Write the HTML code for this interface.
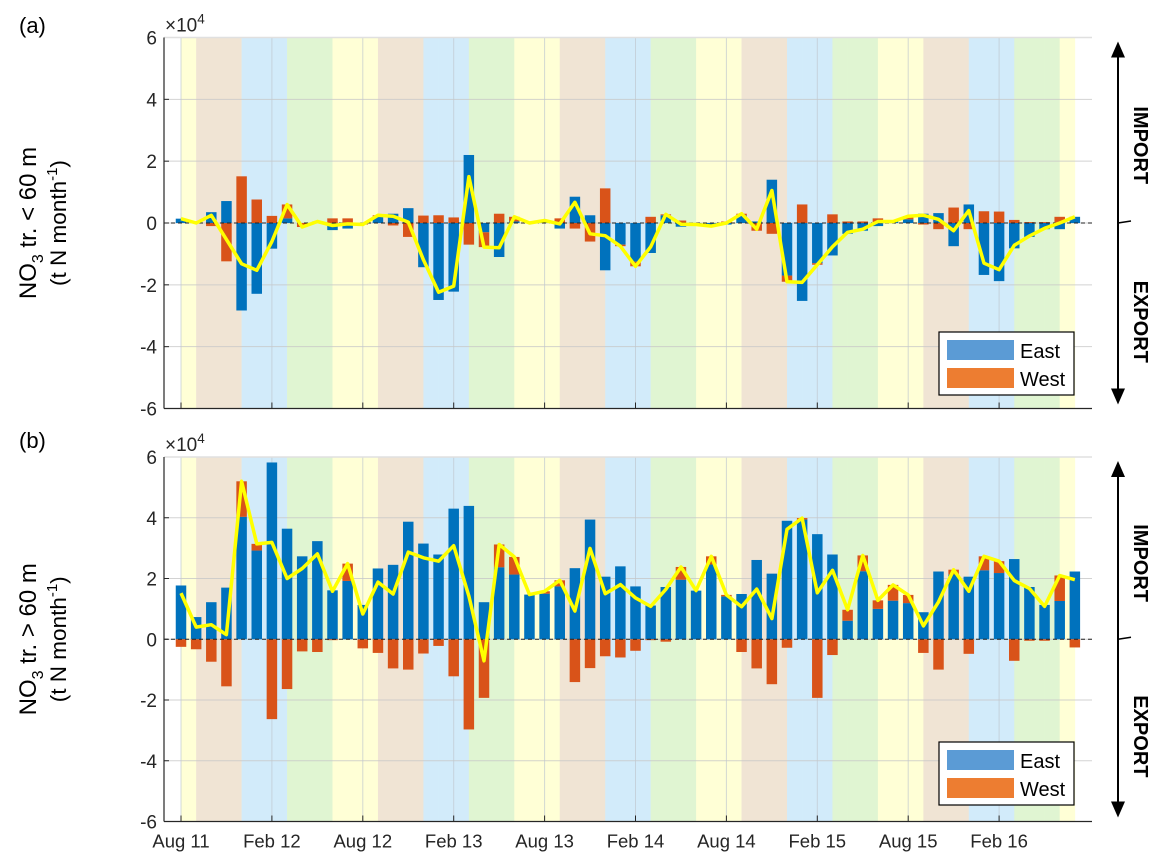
<!DOCTYPE html>
<html><head><meta charset="utf-8">
<style>
html,body{margin:0;padding:0;background:#fff;}
svg{display:block;font-family:"Liberation Sans",Arial,sans-serif;}
</style></head>
<body>
<svg id="chart" width="1159" height="866" viewBox="0 0 1159 866" xmlns="http://www.w3.org/2000/svg"></svg>
<script>
// ---- data (units of 1e4 t N / month), months from Aug 2011 ----
const xTickLabels = ["Aug 11","Feb 12","Aug 12","Feb 13","Aug 13","Feb 14","Aug 14","Feb 15","Aug 15","Feb 16"];
const yTickLabels = [6,4,2,0,-2,-4,-6];
const seasonNames = ["summer","autumn","winter","spring"];
const eastA = [0.14,0,0.35,0.71,-2.83,-2.29,-0.83,0.15,0,0.05,-0.23,-0.18,-0.03,0.2,0.3,0.48,-1.43,-2.49,-2.22,2.2,-0.3,-1.1,0.05,0,0.05,-0.18,0.85,0.25,-1.53,-0.7,-1.25,-0.97,0.25,-0.12,-0.03,-0.08,-0.05,0.25,0.05,1.4,-1.7,-2.52,-1.3,-1.05,-0.35,-0.25,-0.1,0.05,0.12,0.3,0.32,-0.75,0.6,-1.68,-1.88,-0.82,-0.45,-0.2,-0.2,0.2];
const westA = [0,0,-0.1,-1.24,1.51,0.76,0.23,0.45,-0.13,0,0.15,0.15,-0.02,0.05,-0.08,-0.45,0.24,0.25,0.18,-0.7,-0.48,0.3,0.15,0,0.03,0.15,-0.18,-0.6,1.12,-0.05,-0.15,0.2,0.03,0.08,-0.02,-0.02,0.05,0.05,-0.25,-0.35,-0.2,0.6,-0.05,0.28,0.05,0.05,0.15,0,0.1,-0.05,-0.2,0.5,-0.2,0.38,0.37,0.1,0.03,0.03,0.2,0];
const eastB = [1.77,0.73,1.22,1.7,4.03,2.92,5.82,3.64,2.73,3.23,1.61,1.92,1.13,2.33,2.45,3.87,3.15,2.79,4.3,4.39,1.22,2.37,2.13,1.47,1.5,1.74,2.34,3.94,2.06,2.4,1.74,1.11,1.72,1.96,1.6,2.46,1.41,1.49,2.61,2.16,3.9,3.94,3.46,2.79,0.61,2.24,1.0,1.27,1.19,0.89,2.23,2.13,2.06,2.27,2.18,2.64,1.72,1.13,1.26,2.23];
const westB = [-0.25,-0.33,-0.74,-1.55,1.17,0.22,-2.63,-1.64,-0.4,-0.42,-0.03,0.57,-0.3,-0.45,-0.96,-1.0,-0.47,-0.22,-1.22,-2.97,-1.93,0.75,0.58,0,0.08,0.2,-1.41,-0.95,-0.56,-0.6,-0.38,-0.03,-0.08,0.42,0,0.27,0.05,-0.42,-0.96,-1.48,-0.28,0.05,-1.93,-0.52,0.36,0.52,0.28,0.52,0.27,-0.45,-1.0,0.16,-0.48,0.46,0.39,-0.71,-0.05,-0.05,0.84,-0.27];

const NS="http://www.w3.org/2000/svg";
const svg=document.getElementById('chart');
function mk(tag,attrs,parent){const e=document.createElementNS(NS,tag);for(const k in attrs)e.setAttribute(k,attrs[k]);(parent||svg).appendChild(e);return e;}

const X0=181, DX=15.15, AXL=164, AXR=1092;
function xScale(m){return X0+m*DX;}
const seasonColors={summer:"#ffffd6",autumn:"#f0e4d4",winter:"#d2ebfa",spring:"#e0f5d2"};

const panels=[
 {id:"a",east:eastA,west:westA,top:37.5,bot:408.5,label:"(a)",labY:25,title2:"tr. < 60 m",legY:332},
 {id:"b",east:eastB,west:westB,top:457,bot:821.5,label:"(b)",labY:440,title2:"tr. > 60 m",legY:742}
];

panels.forEach(p=>{
  const g=mk('g',{});
  
  
  const yS=v=>p.top+(6-v)*(p.bot-p.top)/12;
  const n=p.east.length;
  for(let m=0;m<n-1;m++){
    const mon=(7+m)%12;
    let s = (mon>=5&&mon<=7)?"summer":(mon>=8&&mon<=10)?"autumn":(mon==11||mon<=1)?"winter":"spring";
    const r=mk('rect',{x:xScale(m),y:p.top,width:DX+0.3,height:p.bot-p.top,fill:seasonColors[s]},g);
    
    
  }
  yTickLabels.forEach(v=>{
    const y=yS(v);
    const l=mk('line',{x1:AXL,x2:AXR,y1:y,y2:y,stroke:"#c8c8c8","stroke-width":1,opacity:0.8},g);
    
    
    const t=mk('text',{x:157,y:y+7,"text-anchor":"end","font-size":19,fill:"#262626"},g);
    t.textContent=v;
    
    
    mk('line',{x1:AXL,x2:AXL+5,y1:y,y2:y,stroke:"#262626"},g);
  });
  xTickLabels.forEach((lab,i)=>{
    const x=xScale(i*6);
    const l=mk('line',{x1:x,x2:x,y1:p.top,y2:p.bot,stroke:"#c0c8d0","stroke-width":1,opacity:0.7},g);
    
    
    mk('line',{x1:x,x2:x,y1:p.bot,y2:p.bot-6,stroke:"#262626"},g);
    if(p.id==="b"){
      const t=mk('text',{x:x,y:p.bot+26,"text-anchor":"middle","font-size":18.5,fill:"#262626"},g);
      t.textContent=lab;
      
      
    }
  });
  const bw=10.5;
  for(let i=0;i<n;i++){
    const x=xScale(i)-bw/2;
    let pos=0,neg=0;
    [[p.east[i],"#0072bd","east"],[p.west[i],"#d95319","west"]].forEach(([v,c,nm])=>{
      let y0,y1;
      if(v>=0){y0=pos;y1=pos+v;pos=y1;}else{y0=neg;y1=neg+v;neg=y1;}
      const ya=yS(Math.max(y0,y1)),yb=yS(Math.min(y0,y1));
      const r=mk('rect',{x:x,y:ya,width:bw,height:Math.max(0,yb-ya),fill:c},g);
      
      
    });
  }
  const z=mk('line',{x1:AXL,x2:AXR,y1:yS(0),y2:yS(0),stroke:"#222","stroke-width":1,"stroke-dasharray":"4,3"},g);
  
  
  const pts=p.east.map((e,i)=>xScale(i).toFixed(1)+","+yS(e+p.west[i]).toFixed(1)).join(" ");
  const pl=mk('polyline',{points:pts,fill:"none",stroke:"#ffff00","stroke-width":3.5,"stroke-linejoin":"round"},g);
  
  
  mk('line',{x1:AXL,x2:AXR,y1:p.top,y2:p.top,stroke:"#e0e0e0","stroke-width":1.5},g);
  const ax=mk('line',{x1:AXL,x2:AXL,y1:p.top,y2:p.bot,stroke:"#262626","stroke-width":1.2},g);
  
  
  const bx=mk('line',{x1:AXL,x2:AXR,y1:p.bot,y2:p.bot,stroke:"#262626","stroke-width":1.2},g);
  
  
  const ex=mk('text',{x:165,y:p.top-6,"font-size":19,fill:"#262626"},g);
  ex.innerHTML='×10<tspan dy="-8" font-size="13.5">4</tspan>';
  
  
  const pl2=mk('text',{x:19,y:p.labY+8,"font-size":22,fill:"#000"},g);
  pl2.textContent=p.label;
  
  
  const cy=(p.top+p.bot)/2;
  const yt=mk('text',{transform:`translate(36,${cy}) rotate(-90)`,"text-anchor":"middle","font-size":24,fill:"#000"},g);
  yt.innerHTML='NO<tspan dy="7" font-size="16">3</tspan><tspan dy="-7"> '+p.title2+'</tspan>';
  
  
  const yu=mk('text',{transform:`translate(66,${cy}) rotate(-90)`,"text-anchor":"middle","font-size":22.5,fill:"#000"},g);
  yu.innerHTML='(t N month<tspan dy="-9" font-size="15">-1</tspan><tspan dy="9">)</tspan>';
  
  
  const lg=mk('g',{},g);
  
  
  mk('rect',{x:939,y:p.legY,width:135,height:63,fill:"#fff",stroke:"#000","stroke-width":1.2},lg);
  mk('rect',{x:947,y:p.legY+8,width:67,height:20,fill:"#5b9bd5"},lg);
  mk('rect',{x:947,y:p.legY+36,width:67,height:20,fill:"#ed7d31"},lg);
  const t1=mk('text',{x:1020,y:p.legY+26,"font-size":20,fill:"#000"},lg);t1.textContent="East";
  
  
  const t2=mk('text',{x:1020,y:p.legY+54,"font-size":20,fill:"#000"},lg);t2.textContent="West";
  
  
  const ar=mk('g',{},g);
  
  
  const zy=yS(0);
  mk('line',{x1:1118,x2:1118,y1:p.top+14,y2:p.bot-14,stroke:"#000","stroke-width":2},ar);
  mk('polygon',{points:`1118,${p.top+4} 1111,${p.top+20} 1125,${p.top+20}`,fill:"#000"},ar);
  mk('polygon',{points:`1118,${p.bot-4} 1111,${p.bot-20} 1125,${p.bot-20}`,fill:"#000"},ar);
  mk('line',{x1:1118,x2:1131,y1:zy,y2:zy-2,stroke:"#000","stroke-width":1.5},ar);
  const im=mk('text',{transform:`translate(1134,${(p.top+zy)/2+15}) rotate(90)`,"text-anchor":"middle","font-size":20,"font-weight":"bold",fill:"#000"},ar);
  im.textContent="IMPORT";
  
  
  const eo=mk('text',{transform:`translate(1134,${(zy+p.bot)/2+6}) rotate(90)`,"text-anchor":"middle","font-size":20,"font-weight":"bold",fill:"#000"},ar);
  eo.textContent="EXPORT";
  
  
});
</script>
</body></html>
